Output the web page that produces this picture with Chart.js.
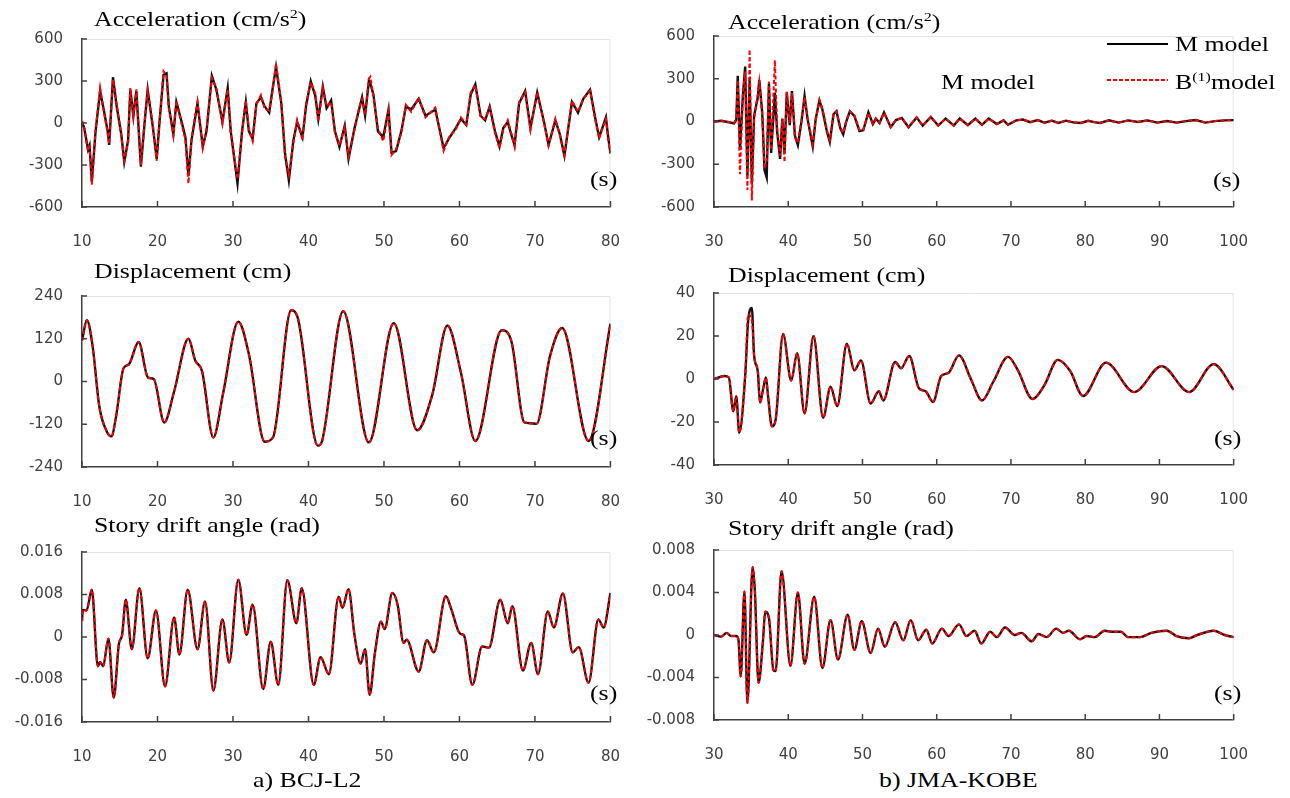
<!DOCTYPE html>
<html>
<head>
<meta charset="utf-8">
<script src="https://cdn.jsdelivr.net/npm/chart.js@4.4.1/dist/chart.umd.min.js"></script>
<style>
  body { margin: 0; background: #fff; width: 1290px; height: 798px; position: relative; overflow: hidden; }
  canvas { position: absolute; }
  .t { position: absolute; font-family: "Liberation Serif", "Times New Roman", serif; font-size: 21px; line-height: 21px;
       color: #000; white-space: nowrap; transform: scaleX(1.23); transform-origin: 0 0; z-index: 5; }
  .t sup { font-size: 13px; line-height: 0; vertical-align: 8px; }
  .lg { position: absolute; height: 2px; z-index: 5; }
</style>
</head>
<body>

<div class="t" style="left:94px;top:9px">Acceleration (cm/s<sup>2</sup>)</div>
<div class="t" style="left:728px;top:12px">Acceleration (cm/s<sup>2</sup>)</div>
<div class="t" style="left:94px;top:261px">Displacement (cm)</div>
<div class="t" style="left:728px;top:265px">Displacement (cm)</div>
<div class="t" style="left:94px;top:515px">Story drift angle (rad)</div>
<div class="t" style="left:728px;top:518px">Story drift angle (rad)</div>

<div class="t" style="left:590px;top:169px">(s)</div>
<div class="t" style="left:1213px;top:170px">(s)</div>
<div class="t" style="left:590px;top:428px">(s)</div>
<div class="t" style="left:1214px;top:428px">(s)</div>
<div class="t" style="left:590px;top:683px">(s)</div>
<div class="t" style="left:1214px;top:683px">(s)</div>

<div class="t" style="left:941px;top:72px">M model</div>
<div class="lg" style="left:1107px;top:43px;width:61px;background:#000"></div>
<div class="t" style="left:1175px;top:34px">M model</div>
<div class="lg" style="left:1107px;top:79px;width:61px;background:repeating-linear-gradient(90deg,#ff0000 0 4px,transparent 4px 6px)"></div>
<div class="t" style="left:1175px;top:72px">B<sup>(1)</sup>model</div>

<div class="t" style="left:253px;top:770px">a) BCJ-L2</div>
<div class="t" style="left:879px;top:770px">b) JMA-KOBE</div>

<script>
// axis ticks and labels
const xTicksL = [10, 20, 30, 40, 50, 60, 70, 80];
const xTicksR = [30, 40, 50, 60, 70, 80, 90, 100];
const accTicks = [-600, -300, 0, 300, 600];
const accLabels = ["-600", "-300", "0", "300", "600"];
const dispTicksL = [-240, -120, 0, 120, 240];
const dispLabelsL = ["-240", "-120", "0", "120", "240"];
const dispTicksR = [-40, -20, 0, 20, 40];
const dispLabelsR = ["-40", "-20", "0", "20", "40"];
const driftTicksL = [-0.016, -0.008, 0, 0.008, 0.016];
const driftLabelsL = ["-0.016", "-0.008", "0", "0.008", "0.016"];
const driftTicksR = [-0.008, -0.004, 0, 0.004, 0.008];
const driftLabelsR = ["-0.008", "-0.004", "0", "0.004", "0.008"];

// a) BCJ-L2 acceleration (cm/s2)
const tAccL = [10,10.3,10.8,11.0,11.3,11.8,12.4,12.8,13.4,13.6,
  14.1,14.6,15.2,15.6,16.1,16.4,16.8,17.2,17.8,18.3,
  18.7,19.4,19.9,20.2,20.8,21.2,21.5,22.1,22.5,23.2,
  23.7,24.1,24.5,25.3,26.0,26.5,27.2,27.8,28.6,29.3,
  29.7,30.6,31.2,31.7,32.1,32.6,33.1,33.7,34.2,34.8,
  35.2,35.7,36.4,36.9,37.4,38.0,38.5,39.2,39.7,40.3,
  40.9,41.3,41.9,42.4,43.0,43.5,44.1,44.8,45.3,46.1,
  46.7,47.1,47.5,48.0,48.2,48.6,49.2,49.9,50.6,51.0,
  51.6,52.3,52.9,53.6,54.6,55.5,56.8,57.9,58.7,59.5,
  60.2,60.9,61.5,62.1,62.8,63.4,64.0,64.7,65.3,65.8,
  66.4,66.9,67.3,67.9,68.7,69.4,70.3,71.2,71.8,72.7,
  73.3,73.9,74.9,75.7,76.4,77.3,78.0,78.5,79.4,79.7,
  80];
const accML = [8,-36,-190,-160,-420,-58,228,118,-58,-157,
  327,118,-80,-278,-125,238,52,228,-311,8,
  238,-36,-256,-36,345,355,118,-80,150,8,
  -102,-380,-124,140,-168,-58,337,238,8,250,
  -58,-432,-58,150,-58,-113,140,183,118,74,
  228,400,140,-223,-410,-124,8,-102,129,298,
  194,30,260,106,161,-58,-170,-20,-256,-36,
  96,184,52,300,280,206,-58,-102,96,-212,
  -201,-58,118,96,173,52,96,-179,-102,-36,
  30,-14,206,276,52,19,118,-58,-168,-36,
  8,-91,-157,140,228,-36,217,8,-157,19,
  -80,-234,150,74,173,238,30,-102,41,-102,
  -215];
const accBL = [15,-40,-200,-150,-440,-50,250,110,-70,-150,
  310,130,-90,-270,-140,250,40,240,-300,10,
  230,-20,-270,-40,370,340,100,-90,160,-10,
  -120,-432,-110,150,-180,-40,320,250,-5,240,
  -70,-400,-70,160,-40,-130,130,200,100,90,
  210,425,150,-240,-370,-140,20,-120,140,290,
  210,10,250,120,150,-70,-160,-30,-240,-50,
  110,170,60,316,330,190,-40,-130,80,-230,
  -190,-70,130,80,180,40,110,-200,-90,-50,
  40,-10,220,270,40,30,110,-70,-180,-50,
  20,-80,-170,150,220,-50,220,0,-160,30,
  -90,-230,160,80,170,230,20,-110,30,-110,
  -220];

// b) JMA-KOBE acceleration (cm/s2)
const tAccR = [30,31,32,32.7,33.0,33.2,33.5,33.9,34.2,34.5,
  34.8,35.1,35.4,35.9,36.1,36.5,36.8,37.1,37.4,37.7,
  38.2,38.5,38.9,39.2,39.5,39.8,40.2,40.5,40.9,41.3,
  41.8,42.2,42.6,43.3,43.7,44.2,44.6,45.2,45.6,46.1,
  46.5,47.0,47.4,47.8,48.3,48.9,49.6,50.1,50.8,51.4,
  51.8,52.3,52.9,53.8,54.5,55.3,56.2,57.3,58.1,59.2,
  60.2,61.2,62.3,63.1,64.2,65.2,66.1,67.0,68.1,69.0,
  69.6,70.7,71.6,72.6,73.6,74.5,75.5,76.4,77.4,78.4,
  79.4,80.4,81.2,82.0,83.2,84.5,85.8,87.1,88.4,89.7,
  91.0,92.3,93.6,94.9,96.2,97.5,98.8,100];
const accMR = [0,5,-5,-14,10,320,-200,191,386,-380,
  290,-437,40,170,290,60,-340,-393,267,-220,
  203,-68,-263,18,-220,203,-25,213,-100,-166,
  7,180,18,-176,18,148,83,-68,-144,51,
  72,-46,-90,-3,72,40,-68,-62,64,-18,
  20,-10,64,-40,10,25,-40,29,-29,31,
  -29,21,-29,21,-25,21,-23,21,-18,8,
  -23,8,14,-5,10,-8,6,-10,6,-6,
  -10,5,-4,-10,8,-8,8,-3,8,-8,
  3,-8,3,10,-8,3,8,10];
const accBR = [0,3,-3,-10,20,290,-370,200,350,-480,
  505,-555,20,190,280,40,-330,-280,280,-200,
  430,-40,-240,20,-285,210,-10,200,-110,-150,
  10,170,30,-160,10,150,90,-60,-130,60,
  70,-40,-80,0,70,45,-60,-60,60,-15,
  18,-8,60,-40,8,25,-38,28,-28,30,
  -28,20,-28,20,-24,20,-22,20,-18,8,
  -22,8,14,-5,10,-8,6,-10,6,-6,
  -10,5,-4,-10,8,-8,8,-3,8,-8,
  3,-8,3,10,-8,3,8,10];

// displacement (cm)
const tDispL = [10,10.65,11.4,12.3,13.3,13.9,14.5,15.5,16.2,17.5,
  18.75,19.5,20.9,22.2,24.1,25.0,25.9,27.4,28.7,30.7,
  32.1,34.2,35.3,37.7,38.6,41.25,41.8,44.6,48.0,51.3,
  54.4,56.4,58.4,60.2,62.1,65.6,66.9,68.6,69.4,70.2,
  72.0,73.6,77.1,80];
const dispL = [115,172,100,-71,-141,-154,-100,37,48,111,
  11,7,-115,-28,120,59,29,-157,-32,168,
  77,-169,-157,200,177,-180,-167,197,-171,164,
  -137,-37,157,24,-167,144,111,-115,-117,-119,
  72,150,-167,162];
const tDispR = [30,31.4,32,32.6,33.0,33.4,34.2,34.6,35.1,35.4,
  35.9,36.2,36.6,37.0,37.3,37.8,38.3,39.3,40.4,41.2,
  42.2,43.4,44.7,45.7,46.6,47.9,48.9,49.8,51.1,52.2,
  52.8,54.4,55.2,56.3,57.6,58.5,59.5,60.6,61.6,63.0,
  64.6,66.1,67.6,69.6,70.9,72.9,74.5,76.3,78.0,79.7,
  82.8,86.6,90.3,94.0,97.3,100];
const dispMR = [0,1.4,0.7,-15,-8,-25,1.4,27,33,11,
  3.6,-11,-5,0.7,-8.6,-22,-19,21,-0.7,12,
  -16,20,-18,-3.6,-12.6,16.4,4,8.6,-11.4,-5.7,
  -10,7.9,5,10.7,-4.3,-5.7,-10.7,1.4,2.9,11,
  0,-10,-1.4,10.3,4.3,-9.3,-2.9,8.9,3.6,-7.9,
  7.6,-6.1,6,-6.1,6.9,-5];
const dispBR = [0,1.4,0.7,-15,-8,-25,1.4,30,27,11,
  3.6,-11,-5,0.7,-8.6,-22,-19,21,-0.7,12,
  -16,20,-18,-3.6,-12.6,16.4,4,8.6,-11.4,-5.7,
  -10,7.9,5,10.7,-4.3,-5.7,-10.7,1.4,2.9,11,
  0,-10,-1.4,10.3,4.3,-9.3,-2.9,8.9,3.6,-7.9,
  7.6,-6.1,6,-6.1,6.9,-5];

// story drift angle (rad)
const tDriftL = [10,10.1,10.6,11.3,12.1,12.4,12.8,13.5,14.2,14.9,
  15.3,15.8,16.6,17.6,18.7,19.8,21.0,22.2,22.9,24.0,
  25.3,26.3,27.4,28.6,29.5,30.7,31.8,32.6,34.0,35.0,
  36.0,37.2,38.4,39.1,40.7,41.6,42.7,44.0,44.5,45.3,
  46.1,46.9,47.5,48.1,48.8,49.6,50.1,51.1,51.8,52.6,
  53.0,54.6,55.7,56.6,58.2,58.9,60.1,60.6,61.7,63.0,
  63.9,65.4,66.4,67.0,68.4,69.5,70.4,71.7,72.5,73.7,
  75.0,75.8,77.1,78.4,79.1,80];
const driftL = [0.003,0.0051,0.005,0.0089,-0.0055,-0.0047,-0.0055,-0.0003,-0.0114,-0.0012,
  0.0003,0.007,-0.0023,0.0092,-0.004,0.005,-0.0093,0.0037,-0.0033,0.0089,
  -0.0023,0.0067,-0.0101,0.0033,-0.0048,0.0108,0.0004,0.0061,-0.0098,-0.0009,
  -0.009,0.0107,0.0026,0.0092,-0.009,-0.0038,-0.007,0.0076,0.0055,0.009,
  0.0003,-0.005,-0.0023,-0.0109,-0.003,0.0029,0.0015,0.0083,0.0061,-0.0011,
  -0.0005,-0.0065,-0.0006,-0.0029,0.0077,0.0053,0.0006,0.0003,-0.009,-0.0018,
  -0.002,0.007,0.0026,0.0058,-0.0063,-0.0011,-0.007,0.0048,0.0018,0.0082,
  -0.0029,-0.0019,-0.0086,0.0033,0.0018,0.0083];
const tDriftR = [30,30.95,31.7,32.3,33.0,33.3,33.6,34.1,34.5,35.2,
  35.5,36.0,36.6,36.9,37.4,38.0,38.3,39.1,40.3,41.3,
  42.2,43.5,44.6,45.7,46.7,48.0,48.9,49.9,51.1,52.1,
  53.0,54.4,55.5,56.5,57.5,58.6,59.4,60.7,61.6,63.0,
  64.0,65.1,66.0,67.2,68.1,69.2,70.5,71.4,72.8,73.7,
  74.8,76.1,77.0,77.8,79.3,80.2,81.3,82.6,83.7,84.8,
  85.8,87.4,88.9,91.0,92.3,94.0,95.1,97.3,98.8,100];
const driftR = [0,-0.00015,0.0002,-0.0001,-0.0001,-0.0005,-0.0039,0.0041,-0.0064,0.0064,
  0.0042,-0.0045,-0.0005,0.0022,0.0016,-0.0033,-0.0034,0.006,-0.0029,0.004,
  -0.0027,0.0036,-0.0031,0.0014,-0.0023,0.0019,-0.0014,0.0013,-0.0017,0.0006,
  -0.0011,0.0012,-0.0005,0.0014,-0.0005,0.0005,-0.0008,0.0006,-0.0001,0.001,
  -0.0001,0.0004,-0.0008,0.0003,-0.0002,0.0007,0,0.0002,-0.0006,0.0001,
  -0.0002,0.0006,0.0002,0.0004,-0.0004,-0.0001,-0.0002,0.0004,0.0003,0.0003,
  -0.0002,-0.0002,0.0002,0.0004,-0.0001,-0.0003,0,0.0004,0,-0.0002];

const PL = 90, PR = 22, PT = 14, PB = 48;
const axisColor = "#404040";

// inward tick marks + faint frame on top/right
const axisMarks = {
  id: "axisMarks",
  beforeDatasetsDraw(chart) {
    const { ctx, chartArea: a } = chart;
    ctx.save();
    ctx.strokeStyle = "#e3e3e3";
    ctx.lineWidth = 1;
    ctx.beginPath();
    ctx.moveTo(a.left, a.top + 0.5);
    ctx.lineTo(a.right - 0.5, a.top + 0.5);
    ctx.lineTo(a.right - 0.5, a.bottom);
    ctx.stroke();
    ctx.restore();
  },
  afterDraw(chart) {
    const { ctx, chartArea: a, scales } = chart;
    ctx.save();
    ctx.strokeStyle = axisColor;
    ctx.lineWidth = 1.5;
    ctx.beginPath();
    scales.y.ticks.forEach(function (t) {
      const y = scales.y.getPixelForValue(t.value);
      ctx.moveTo(a.left, y);
      ctx.lineTo(a.left + 5, y);
    });
    scales.x.ticks.forEach(function (t) {
      const x = scales.x.getPixelForValue(t.value);
      ctx.moveTo(x, a.bottom);
      ctx.lineTo(x, a.bottom - 6);
    });
    ctx.stroke();
    ctx.restore();
  }
};

function pts(t, v) {
  return t.map(function (x, i) { return { x: x, y: v[i] }; });
}

function panel(box, xTicks, yTicks, yLabels, t, m, b, smooth) {
  const cv = document.createElement("canvas");
  const w = box[2] - box[0] + PL + PR;
  const h = box[3] - box[1] + PT + PB;
  cv.width = w;
  cv.height = h;
  cv.style.left = (box[0] - PL) + "px";
  cv.style.top = (box[1] - PT) + "px";
  cv.style.width = w + "px";
  cv.style.height = h + "px";
  document.body.appendChild(cv);

  const tickFont = { family: "DejaVu Sans", size: 15 };
  new Chart(cv, {
    type: "line",
    data: {
      datasets: [
        {
          label: "B(1)model", data: pts(t, b), borderColor: "#ff0000", borderWidth: 2,
          borderDash: [4, 2.5], pointRadius: 0, order: 1,
          tension: smooth ? 0.4 : 0, cubicInterpolationMode: smooth ? "monotone" : "default"
        },
        {
          label: "M model", data: pts(t, m), borderColor: "#111111", borderWidth: 2.4,
          pointRadius: 0, order: 2,
          tension: smooth ? 0.4 : 0, cubicInterpolationMode: smooth ? "monotone" : "default"
        }
      ]
    },
    options: {
      responsive: false,
      animation: false,
      events: [],
      layout: { padding: { left: 0, right: PR, top: PT, bottom: 0 } },
      plugins: { legend: { display: false }, tooltip: { enabled: false } },
      scales: {
        x: {
          type: "linear", min: xTicks[0], max: xTicks[xTicks.length - 1],
          afterBuildTicks: function (s) { s.ticks = xTicks.map(function (v) { return { value: v }; }); },
          afterFit: function (s) { s.height = PB; },
          grid: { display: false, drawTicks: false },
          border: { display: true, color: axisColor, width: 1.5 },
          ticks: { font: tickFont, color: axisColor, padding: 26, maxRotation: 0, autoSkip: false }
        },
        y: {
          min: yTicks[0], max: yTicks[yTicks.length - 1],
          afterBuildTicks: function (s) { s.ticks = yTicks.map(function (v) { return { value: v }; }); },
          afterFit: function (s) { s.width = PL; },
          grid: { display: false, drawTicks: false },
          border: { display: true, color: axisColor, width: 1.5 },
          ticks: {
            font: tickFont, color: axisColor, padding: 19, autoSkip: false,
            callback: function (v, i) { return yLabels[i]; }
          }
        }
      }
    },
    plugins: [axisMarks]
  });
}

panel([82, 25, 624, 207], xTicksL, accTicks, accLabels, tAccL, accML, accBL, false);
panel([714, 22, 1252, 207], xTicksR, accTicks, accLabels, tAccR, accMR, accBR, false);
// B(1) displacement / drift curves lie on the M model curves in the left column
panel([82, 282, 624, 467], xTicksL, dispTicksL, dispLabelsL, tDispL, dispL, dispL, true);
panel([714, 279, 1252, 465], xTicksR, dispTicksR, dispLabelsR, tDispR, dispMR, dispBR, true);
panel([82, 538, 624, 722], xTicksL, driftTicksL, driftLabelsL, tDriftL, driftL, driftL, true);
panel([714, 536, 1252, 720], xTicksR, driftTicksR, driftLabelsR, tDriftR, driftR, driftR, true);
</script>
</body>
</html>
